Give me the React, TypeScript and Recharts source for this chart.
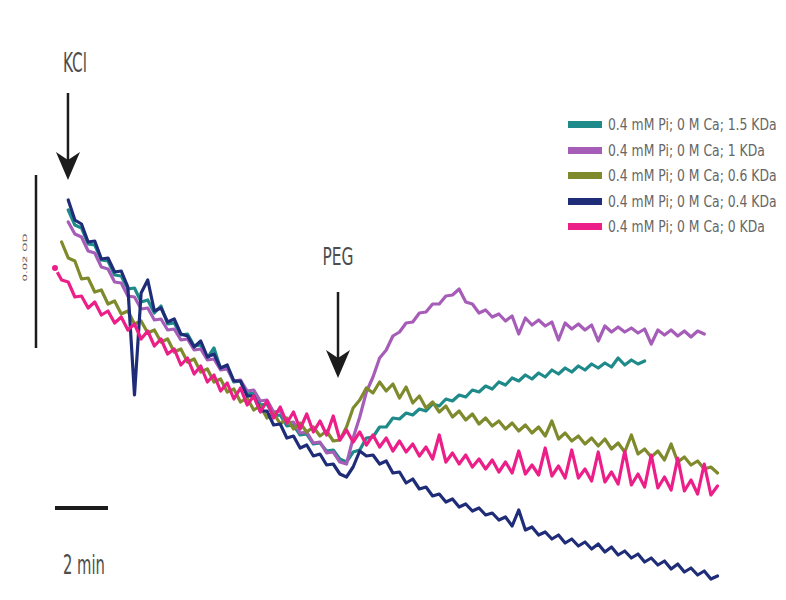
import { LineChart, Line, XAxis, YAxis, ReferenceLine, Legend } from 'recharts'

// minutes after start of recording
const TIME = [
  0, 0.25, 0.5, 0.75, 1, 1.25, 1.5, 1.75, 2, 2.25,
  2.5, 2.75, 3, 3.25, 3.5, 3.75, 4, 4.25, 4.5, 4.75,
  5, 5.25, 5.5, 5.75, 6, 6.25, 6.5, 6.75, 7, 7.25,
  7.5, 7.75, 8, 8.25, 8.5, 8.75, 9, 9.25, 9.5, 9.75,
  10, 10.25, 10.5, 10.75, 11, 11.25, 11.5, 11.75, 12, 12.25,
  12.5, 12.75, 13, 13.25, 13.5, 13.75, 14, 14.25, 14.5, 14.75,
  15, 15.25, 15.5, 15.75, 16, 16.25, 16.5, 16.75, 17, 17.25,
  17.5, 17.75, 18, 18.25, 18.5, 18.75, 19, 19.25, 19.5, 19.75,
  20, 20.25, 20.5, 20.75, 21, 21.25, 21.5, 21.75, 22, 22.25,
  22.5, 22.75, 23, 23.25, 23.5, 23.75, 24, 24.25, 24.5, 24.75, 25,
]

// absorbance traces (arbitrary units, 17.3 units = 0.02 OD)
const TEAL = [
  null, null, 39.0, 37.5, 37.2, 35.6, 35.5, 34.0, 33.9, 32.5,
  32.4, 31.1, 31.2, 29.8, 30.0, 28.7, 29.4, 27.6, 27.7, 26.5,
  26.6, 25.4, 25.5, 24.2, 25.2, 23.1, 23.2, 21.8, 21.9, 20.6,
  20.7, 19.5, 19.6, 18.4, 18.5, 17.4, 17.5, 16.5, 16.6, 15.6,
  15.7, 14.9, 15.0, 14.1, 13.8, 14.8, 15.0, 16.2, 16.3, 17.3,
  17.3, 18.2, 18.1, 18.7, 18.5, 19.1, 18.9, 19.6, 19.4, 20.1,
  19.9, 20.5, 20.3, 21.0, 20.8, 21.4, 21.1, 21.8, 21.5, 22.2,
  21.9, 22.5, 22.1, 22.7, 22.3, 23.0, 22.6, 23.2, 22.8, 23.4,
  23.0, 23.6, 23.2, 23.7, 23.3, 24.2, 23.5, 24.0, 23.6, 23.9,
  null, null, null, null, null, null, null, null, null, null, null,
]

const PURPLE = [
  null, null, 37.8, 36.6, 36.3, 34.9, 34.7, 33.3, 33.1, 31.8,
  31.7, 30.4, 30.3, 29.1, 29.2, 28.0, 28.1, 27.0, 27.1, 26.0,
  26.1, 25.0, 25.1, 24.0, 24.1, 23.0, 23.1, 21.9, 22.0, 20.9,
  21.0, 19.9, 20.0, 18.8, 18.9, 17.7, 17.8, 16.7, 16.8, 15.7,
  15.8, 14.7, 14.8, 13.8, 13.6, 16.2, 18.3, 20.8, 22.3, 24.2,
  25.0, 26.4, 26.8, 27.7, 27.8, 28.7, 28.8, 29.6, 29.6, 30.4,
  30.5, 31.1, 29.8, 29.6, 28.7, 29.0, 28.3, 28.6, 27.9, 28.4,
  26.6, 28.2, 27.5, 28.0, 27.4, 27.8, 26.0, 27.7, 27.1, 27.6,
  27.0, 27.5, 25.9, 27.4, 26.8, 27.3, 26.8, 27.2, 26.7, 27.1,
  25.6, 27.0, 26.5, 27.0, 26.4, 26.9, 26.3, 26.9, 26.6, null, null,
]

const OLIVE = [
  null, 35.8, 34.2, 33.9, 32.1, 32.2, 30.8, 31.0, 29.6, 29.9,
  28.6, 28.9, 27.6, 27.9, 26.7, 27.0, 25.8, 26.1, 24.8, 25.1,
  23.8, 24.1, 22.8, 23.1, 21.8, 22.1, 20.8, 21.1, 19.8, 20.2,
  19.0, 19.4, 18.2, 18.7, 17.6, 18.2, 17.1, 17.7, 16.8, 17.3,
  16.4, 16.9, 15.9, 16.0, 17.3, 19.2, 20.0, 21.2, 20.7, 21.8,
  20.9, 21.6, 20.2, 21.3, 19.7, 20.4, 19.2, 19.8, 18.8, 19.4,
  18.3, 18.9, 18.0, 18.6, 17.6, 18.2, 17.4, 17.9, 17.1, 17.7,
  16.9, 17.5, 16.7, 17.3, 16.4, 17.9, 16.1, 16.7, 15.9, 16.4,
  15.6, 16.2, 15.4, 16.1, 15.1, 15.7, 14.8, 16.5, 14.6, 15.1,
  14.3, 14.9, 14.0, 15.6, 13.8, 14.3, 13.5, 13.9, 13.1, 13.3, 12.7,
]

const NAVY = [
  null, null, 40.0, 38.0, 37.6, 35.8, 35.9, 34.1, 34.2, 32.8,
  32.9, 31.3, 20.5, 30.7, 32.0, 28.9, 29.2, 27.8, 28.1, 26.6,
  26.4, 25.3, 25.9, 24.3, 24.6, 23.2, 23.5, 21.9, 21.9, 20.4,
  20.4, 18.9, 18.9, 17.5, 17.6, 16.2, 16.4, 15.2, 15.5, 14.4,
  14.6, 13.5, 13.6, 12.6, 12.3, 13.3, 14.9, 14.4, 14.5, 13.6,
  13.9, 12.7, 12.8, 11.7, 12.1, 11.1, 11.3, 10.4, 10.6, 9.8,
  10.1, 9.3, 9.6, 8.9, 9.2, 8.5, 8.7, 8.0, 8.3, 7.4,
  9.0, 7.0, 7.3, 6.5, 6.8, 6.1, 6.5, 5.7, 6.1, 5.4,
  5.8, 5.1, 5.6, 4.8, 5.3, 4.5, 4.9, 4.2, 4.6, 3.8,
  4.2, 3.5, 3.9, 3.1, 3.6, 2.8, 3.2, 2.5, 2.9, 2.1, 2.4,
]

const PINK = [
  33.2, 32.0, 31.8, 30.3, 30.4, 29.2, 29.8, 28.5, 28.9, 27.7,
  28.3, 27.0, 27.6, 26.1, 26.9, 25.4, 26.1, 24.6, 25.1, 23.5,
  24.2, 22.6, 23.4, 21.8, 22.5, 20.9, 21.7, 20.1, 21.2, 19.5,
  20.4, 18.8, 19.9, 18.2, 19.3, 17.7, 18.8, 17.1, 18.6, 16.8,
  17.9, 16.5, 18.4, 16.0, 17.0, 15.8, 16.8, 15.5, 16.5, 15.3,
  16.2, 14.9, 15.9, 14.8, 15.6, 14.4, 15.3, 14.1, 16.5, 13.8,
  14.7, 13.6, 14.5, 13.3, 14.1, 13.1, 14.0, 12.8, 13.8, 12.7,
  14.9, 12.6, 13.5, 12.5, 15.2, 12.4, 13.4, 12.2, 15.0, 12.2,
  13.1, 11.9, 14.8, 11.8, 12.8, 11.6, 14.9, 11.5, 12.6, 11.3,
  14.5, 11.2, 12.3, 11.0, 14.2, 10.9, 12.0, 10.6, 13.6, 10.5, 11.4,
]

const SERIES = [
  { key: 'kda15', values: TEAL, color: '#1f8a8a', label: '0.4 mM Pi; 0 M Ca; 1.5 KDa' },
  { key: 'kda1', values: PURPLE, color: '#a65db8', label: '0.4 mM Pi; 0 M Ca; 1 KDa' },
  { key: 'kda06', values: OLIVE, color: '#7f8a2c', label: '0.4 mM Pi; 0 M Ca; 0.6 KDa' },
  { key: 'kda04', values: NAVY, color: '#1f2c78', label: '0.4 mM Pi; 0 M Ca; 0.4 KDa' },
  { key: 'kda0', values: PINK, color: '#ec1f88', label: '0.4 mM Pi; 0 M Ca; 0 KDa' },
]

// additions and scale bars (minutes / absorbance units)
const KCL_AT = 0.49
const PEG_AT = 10.68
const SCALE_BAR_OD = 17.3
const SCALE_BAR_MIN = 2

const rows = TIME.map((t, i) => {
  const row: Record<string, number | null> = { t }
  SERIES.forEach(s => { row[s.key] = s.values[i] })
  return row
})

const FONT = "'Liberation Sans Narrow', 'DejaVu Sans Condensed', sans-serif"

function Arrow(props: any) {
  const { x1, y1, x2, y2 } = props
  const x = (x1 + x2) / 2
  const top = Math.min(y1, y2)
  const tip = Math.max(y1, y2)
  return (
    <g>
      <line x1={x} y1={top} x2={x} y2={tip - 20} stroke="#1c1c1c" strokeWidth={2.5} />
      <polygon
        points={`${x - 12},${tip - 28} ${x},${tip - 20} ${x + 12},${tip - 28} ${x},${tip}`}
        fill="#1c1c1c"
      />
    </g>
  )
}

const textLabel = (text: string, dx: number, dy: number, size: number, len: number) => (props: any) => {
  const vb = props.viewBox || {}
  const x = vb.x + (vb.width || 0) / 2 + dx
  const y = vb.y + dy
  return (
    <text x={x} y={y} textAnchor="middle" fontSize={size} fontFamily={FONT} fill="#4d4d4d"
      textLength={len} lengthAdjust="spacingAndGlyphs">
      {text}
    </text>
  )
}

const odLabel = (props: any) => {
  const vb = props.viewBox || {}
  const x = vb.x - 9
  const y = vb.y + (vb.height || 0) / 2 - 4
  return (
    <text x={x} y={y} transform={`rotate(-90 ${x} ${y})`} textAnchor="middle" fontSize={6}
      fontFamily={FONT} fill="#555" textLength={48} lengthAdjust="spacingAndGlyphs">
      0.02 OD
    </text>
  )
}

// legend rows follow the series order, as in the figure
function LegendBox() {
  return (
    <div>
      {SERIES.map(s => (
        <div key={s.key} style={{ display: 'flex', alignItems: 'center', height: 25.5 }}>
          <span style={{ display: 'inline-block', flexShrink: 0, width: 34, height: 7, background: s.color }} />
          <span
            style={{
              display: 'inline-block', marginLeft: 6, fontFamily: FONT, fontSize: 16, color: '#666',
              whiteSpace: 'nowrap', transform: 'scaleX(0.86)', transformOrigin: 'left center',
            }}
          >
            {s.label}
          </span>
        </div>
      ))}
    </div>
  )
}

export default function App() {
  return (
    <div style={{ position: 'absolute', left: 0, top: 0, width: 786, height: 600, background: '#fff' }}>
      <LineChart width={786} height={600} data={rows} margin={{ top: 0, right: 0, bottom: 0, left: 0 }}>
        <XAxis type="number" dataKey="t" domain={[-2.075, 27.585]} hide allowDataOverflow />
        <YAxis type="number" domain={[0, 60]} hide allowDataOverflow />
        <Legend
          layout="vertical"
          align="center"
          verticalAlign="middle"
          content={<LegendBox />}
          wrapperStyle={{ left: 568, top: 112, width: 218, height: 130, overflow: 'hidden' }}
        />
        {SERIES.map(s => (
          <Line
            key={s.key}
            type="linear"
            dataKey={s.key}
            name={s.label}
            stroke={s.color}
            strokeWidth={3.2}
            strokeLinejoin="round"
            strokeLinecap="round"
            dot={false}
            isAnimationActive={false}
          />
        ))}
        <ReferenceLine
          segment={[{ x: KCL_AT, y: 50.7 }, { x: KCL_AT, y: 42.0 }]}
          shape={<Arrow />}
          label={textLabel('KCl', 7, -21, 26, 24)}
        />
        <ReferenceLine
          segment={[{ x: PEG_AT, y: 30.8 }, { x: PEG_AT, y: 22.2 }]}
          shape={<Arrow />}
          label={textLabel('PEG', 0, -27, 24, 31)}
        />
        <ReferenceLine
          segment={[{ x: -0.717, y: 25.2 }, { x: -0.717, y: 25.2 + SCALE_BAR_OD }]}
          stroke="#1c1c1c"
          strokeWidth={2.5}
          label={odLabel}
        />
        <ReferenceLine
          segment={[{ x: 0, y: 9.2 }, { x: SCALE_BAR_MIN, y: 9.2 }]}
          stroke="#1c1c1c"
          strokeWidth={4}
          label={textLabel('2 min', 2.5, 66, 26, 42)}
        />
      </LineChart>
    </div>
  )
}
